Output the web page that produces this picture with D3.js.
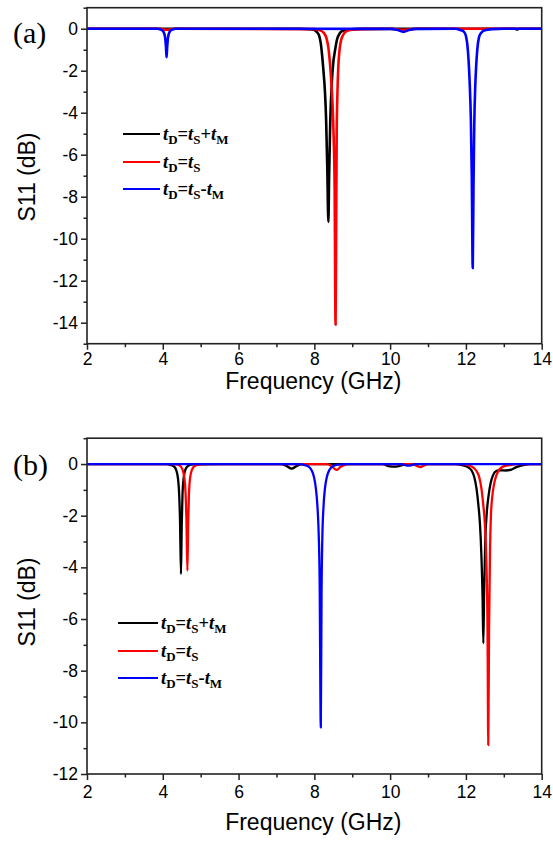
<!DOCTYPE html>
<html>
<head>
<meta charset="utf-8">
<script src="https://cdn.jsdelivr.net/npm/d3@7"></script>
<style>
  body { margin: 0; background: #fff; }
  svg { display: block; }
  .tick text { font-family: Arial, "Liberation Sans", sans-serif; font-size: 17.5px; fill: #000; }
  .domain { display: none; }
</style>
</head>
<body>
<svg id="chart" width="553" height="846"></svg>
<script>
// ---------------- DATA ----------------
const xTicks = [2, 4, 6, 8, 10, 12, 14];
const xMinorTicks = [3, 5, 7, 9, 11, 13];
const aYTicks = [0, -2, -4, -6, -8, -10, -12, -14];
const aYMinor = [1, -1, -3, -5, -7, -9, -11, -13, -15];
const bYTicks = [0, -2, -4, -6, -8, -10, -12];
const bYMinor = [1, -1, -3, -5, -7, -9, -11];
const seriesNames = ["plus", "equal", "minus"];
const seriesColors = ["#000000", "#ff0000", "#0000ff"];

// Panel (a): [frequency GHz, S11 dB]
const aPlus = [[2,0],[7.6,0],[7.9,-0.03],[8.0,-0.07],[8.06,-0.15],[8.12,-0.3],[8.17,-0.7],[8.2,-1.17],[8.24,-2.0],[8.28,-3.0],[8.31,-4.3],[8.34,-6.5],[8.37,-9.2],[8.39,-7.0],[8.42,-4.4],[8.46,-2.6],[8.5,-1.6],[8.54,-1.1],[8.6,-0.5],[8.67,-0.22],[8.75,-0.1],[8.9,-0.04],[9.2,-0.01],[13.3,0],[13.35,-0.04],[13.4,0],[14,0]];
const aEqual = [[2,0],[3.9,0],[4.1,-0.05],[4.3,0],[8.0,-0.02],[8.15,-0.08],[8.25,-0.2],[8.32,-0.45],[8.37,-0.9],[8.41,-1.6],[8.45,-2.6],[8.48,-3.6],[8.51,-5.2],[8.535,-7.5],[8.56,-14.1],[8.575,-9.5],[8.59,-5.0],[8.61,-3.0],[8.63,-1.9],[8.66,-1.1],[8.7,-0.6],[8.76,-0.3],[8.85,-0.12],[9.0,-0.05],[9.3,-0.02],[10.0,0],[10.35,-0.05],[10.7,0],[14,0]];
const aMinus = [[2,0],[3.85,0],[3.95,-0.04],[4.02,-0.15],[4.06,-0.4],[4.085,-0.9],[4.1,-1.36],[4.115,-0.9],[4.14,-0.4],[4.18,-0.15],[4.25,-0.04],[4.35,0],[10.0,-0.01],[10.2,-0.06],[10.35,-0.15],[10.5,-0.06],[10.7,-0.01],[11.7,0],[11.85,-0.06],[11.95,-0.15],[12.0,-0.35],[12.04,-0.8],[12.07,-1.5],[12.1,-2.6],[12.13,-4.3],[12.155,-7],[12.18,-11.4],[12.2,-7.5],[12.22,-4.6],[12.245,-2.8],[12.27,-1.8],[12.3,-1.0],[12.34,-0.45],[12.4,-0.2],[12.5,-0.07],[12.7,-0.02],[13,0],[14,0]];

// Panel (b)
const bPlus = [[2,0],[4.1,0],[4.2,-0.03],[4.3,-0.1],[4.35,-0.22],[4.4,-0.55],[4.43,-1.1],[4.455,-2.2],[4.48,-4.26],[4.5,-2.4],[4.52,-1.2],[4.55,-0.55],[4.6,-0.2],[4.68,-0.06],[4.8,-0.01],[7.1,0],[7.25,-0.06],[7.4,-0.18],[7.55,-0.06],[7.7,0],[9.8,0],[9.95,-0.08],[10.15,-0.1],[10.35,-0.03],[10.5,0],[11.7,0],[11.9,-0.04],[12.05,-0.12],[12.15,-0.25],[12.22,-0.5],[12.28,-0.95],[12.33,-1.6],[12.37,-2.3],[12.41,-3.6],[12.44,-5.2],[12.46,-6.94],[12.48,-5.0],[12.51,-3.0],[12.55,-1.9],[12.6,-1.2],[12.65,-0.75],[12.72,-0.42],[12.8,-0.27],[12.9,-0.24],[13.05,-0.25],[13.2,-0.22],[13.3,-0.14],[13.45,-0.06],[13.7,0],[14,0]];
const bEqual = [[2,0],[4.3,0],[4.4,-0.03],[4.48,-0.1],[4.53,-0.25],[4.57,-0.55],[4.6,-1.1],[4.625,-2.2],[4.65,-4.13],[4.67,-2.3],[4.69,-1.2],[4.72,-0.55],[4.77,-0.22],[4.85,-0.07],[5.0,-0.01],[5.2,0],[8.35,0],[8.45,-0.08],[8.55,-0.2],[8.6,-0.23],[8.68,-0.12],[8.8,-0.03],[8.9,0],[10.6,0],[10.72,-0.08],[10.8,-0.12],[10.9,-0.05],[11.0,0],[11.9,0],[12.05,-0.04],[12.18,-0.12],[12.27,-0.25],[12.35,-0.5],[12.41,-0.95],[12.46,-1.6],[12.5,-2.3],[12.54,-3.8],[12.57,-6.3],[12.59,-10.88],[12.61,-6.5],[12.635,-3.5],[12.66,-2.0],[12.7,-1.2],[12.74,-0.8],[12.8,-0.45],[12.88,-0.22],[12.98,-0.1],[13.15,-0.04],[13.4,0],[14,0]];
const bMinus = [[2,0],[7.6,0],[7.75,-0.04],[7.85,-0.1],[7.93,-0.25],[7.99,-0.5],[8.04,-0.94],[8.08,-1.6],[8.11,-2.5],[8.14,-4.5],[8.17,-10.2],[8.19,-5.0],[8.21,-2.9],[8.24,-1.7],[8.28,-0.94],[8.33,-0.5],[8.4,-0.22],[8.5,-0.08],[8.65,-0.02],[8.8,0],[10.3,0],[10.45,-0.06],[10.55,-0.05],[10.7,0],[14,0]];

// ---------------- DRAW ----------------
const svg = d3.select("#chart");
const X0 = 87, X1 = 541.7;

function legendText(g, x, y, sign) {
  const t = g.append("text").attr("x", x).attr("y", y)
    .style("font-family", "'Times New Roman','Liberation Serif',serif")
    .style("font-size", "18.5px").style("font-weight", "bold");
  const sub = (s) => t.append("tspan").attr("font-size", "13px").attr("dy", 4).text(s);
  t.append("tspan").attr("font-style", "italic").text("t");
  sub("D");
  t.append("tspan").attr("dy", -4).text("=");
  t.append("tspan").attr("font-style", "italic").text("t");
  sub("S");
  if (sign) {
    t.append("tspan").attr("dy", -4).text(sign);
    t.append("tspan").attr("font-style", "italic").text("t");
    sub("M");
  }
}

function panel(cfg) {
  const x = d3.scaleLinear().domain([2, 14]).range([X0, X1]);
  const y = d3.scaleLinear().domain(cfg.yDomain).range([cfg.yBottom, cfg.yTop]);
  const g = svg.append("g");

  // lines
  const line = d3.line().x(d => x(d[0])).y(d => y(d[1])).curve(d3.curveMonotoneX);
  cfg.series.forEach((s, i) => {
    g.append("path").datum(s).attr("fill", "none")
      .attr("stroke", seriesColors[i]).attr("stroke-width", cfg.lw)
      .attr("stroke-linejoin", "round").attr("d", line);
  });

  // frame
  g.append("rect").attr("x", X0).attr("y", cfg.yTop)
    .attr("width", X1 - X0).attr("height", cfg.yBottom - cfg.yTop)
    .attr("fill", "none").attr("stroke", "#222").attr("stroke-width", 1.6);

  // axes
  g.append("g").attr("transform", `translate(0,${cfg.yBottom})`)
    .call(d3.axisBottom(x).tickValues(xTicks).tickSize(6).tickPadding(cfg.xPad).tickFormat(d3.format("d")));
  g.append("g").attr("transform", `translate(0,${cfg.yBottom})`)
    .call(d3.axisBottom(x).tickValues(xMinorTicks).tickSize(3.5).tickFormat(""));
  g.append("g").attr("transform", `translate(${X0},0)`)
    .call(d3.axisLeft(y).tickValues(cfg.yTicks).tickSize(6).tickPadding(3).tickFormat(d => d === 0 ? "0" : "-" + Math.abs(d)));
  g.append("g").attr("transform", `translate(${X0},0)`)
    .call(d3.axisLeft(y).tickValues(cfg.yMinor).tickSize(3.5).tickFormat(""));
  g.selectAll(".tick line").attr("stroke", "#222").attr("stroke-width", 1.5);

  // titles
  g.append("text").attr("x", (X0 + X1) / 2 - 1).attr("y", cfg.xTitleY)
    .attr("text-anchor", "middle")
    .style("font-family", "Arial,'Liberation Sans',sans-serif").style("font-size", "23px")
    .text("Frequency (GHz)");
  g.append("text").attr("transform", `translate(35,${cfg.yTitleY}) rotate(-90)`)
    .attr("text-anchor", "middle")
    .style("font-family", "Arial,'Liberation Sans',sans-serif").style("font-size", "23px")
    .text("S11 (dB)");
  g.append("text").attr("x", 13).attr("y", cfg.labelY)
    .style("font-family", "'Times New Roman','Liberation Serif',serif").style("font-size", "30px")
    .text(cfg.label);

  // legend
  const signs = ["+", null, "-"];
  cfg.legendY.forEach((ly, i) => {
    g.append("line").attr("x1", cfg.legX0).attr("x2", cfg.legX1).attr("y1", ly).attr("y2", ly)
      .attr("stroke", seriesColors[i]).attr("stroke-width", 2.2);
    legendText(g, cfg.legX1 + 3, ly + 6, signs[i]);
  });
}

panel({
  yDomain: [-15, 1], yTop: 7.7, yBottom: 343.7,
  yTicks: aYTicks, yMinor: aYMinor,
  series: [aPlus, aEqual, aMinus], lw: 2.6, xPad: 3,
  xTitleY: 389, yTitleY: 177, label: "(a)", labelY: 43,
  legendY: [134, 162, 189], legX0: 123, legX1: 160
});
panel({
  yDomain: [-12, 1], yTop: 438.2, yBottom: 774,
  yTicks: bYTicks, yMinor: bYMinor,
  series: [bPlus, bEqual, bMinus], lw: 2.3, xPad: 6,
  xTitleY: 830, yTitleY: 602, label: "(b)", labelY: 475,
  legendY: [623, 651, 678], legX0: 118, legX1: 158
});
</script>
</body>
</html>
